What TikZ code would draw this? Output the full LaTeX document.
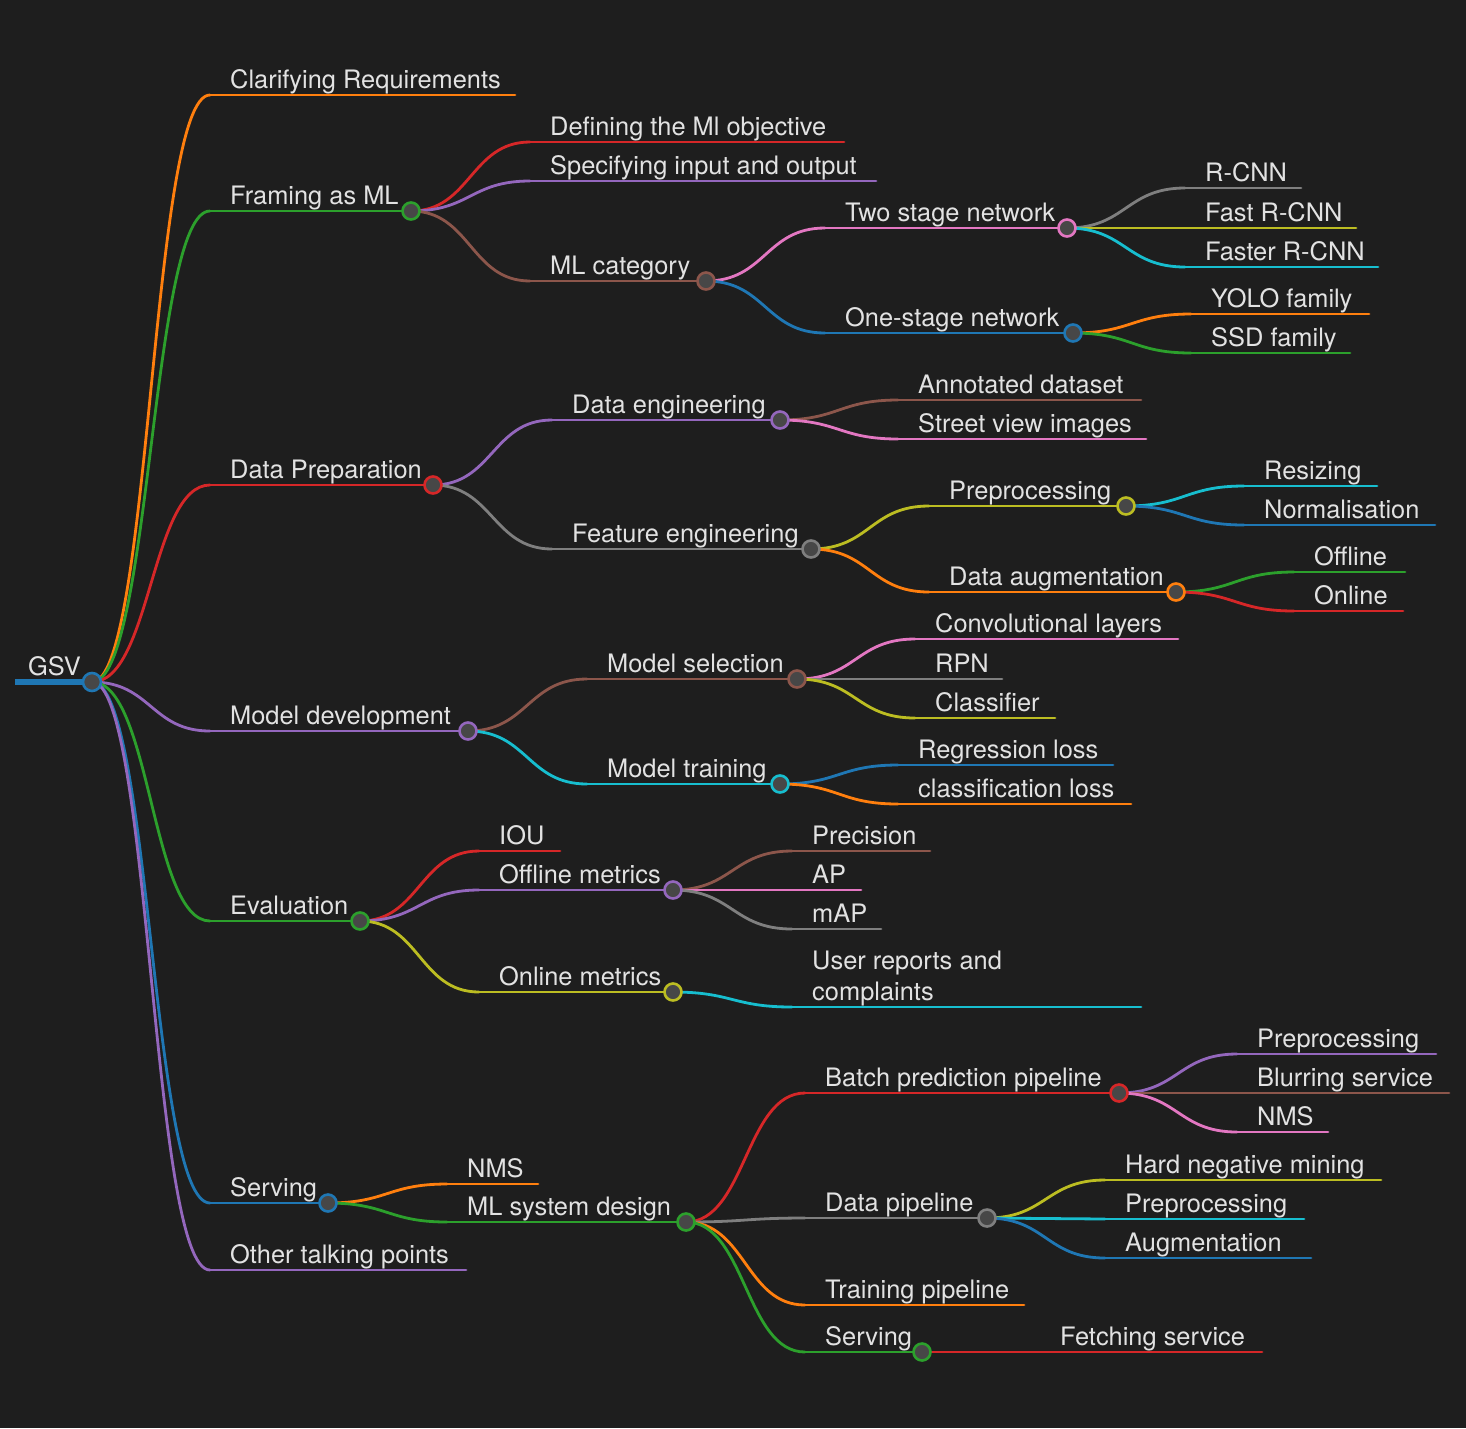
\documentclass[tikz,border=0pt]{standalone}
\usepackage{fontspec}
\setmainfont{TeX Gyre Heros}
\usetikzlibrary{calc}
\pgfdeclarelayer{bg}
\pgfdeclarelayer{back}
\pgfsetlayers{back,bg,main}
\definecolor{cBlue}{HTML}{1F77B4}
\definecolor{cOrange}{HTML}{FF7F0E}
\definecolor{cGreen}{HTML}{2CA02C}
\definecolor{cRed}{HTML}{D62728}
\definecolor{cPurple}{HTML}{9467BD}
\definecolor{cBrown}{HTML}{8C564B}
\definecolor{cPink}{HTML}{E377C2}
\definecolor{cGray}{HTML}{7F7F7F}
\definecolor{cOlive}{HTML}{BCBD22}
\definecolor{cCyan}{HTML}{17BECF}
\definecolor{bgcol}{HTML}{1E1E1E}
\definecolor{txtcol}{HTML}{E2E2E2}
\definecolor{dotfill}{HTML}{474747}
\tikzset{
  lbl/.style={anchor=base west, inner sep=0pt, text=txtcol, font=\fontsize{25.4}{31}\selectfont},
  ln/.style={line width=2.8pt, line cap=round},
  dot/.style={circle, fill=dotfill, line width=2.6pt, minimum size=17pt, inner sep=0pt},
}
% leaf: name, colour, x start, x end, y, text
\newcommand\mmleaf[6]{%
  \coordinate (#1) at (#3,#5);
  \coordinate (#1e) at (#4,#5);
  \node[lbl] (#1t) at (#3+20,#5-7) {#6};
  \begin{pgfonlayer}{bg}\draw[ln,#2] (#1) -- (#1e);\end{pgfonlayer}%
}
% inner node: name, colour, x start, x circle, y, text
\newcommand\mmint[6]{%
  \coordinate (#1) at (#3,#5);
  \node[dot,draw=#2] (#1c) at (#4,#5) {};
  \node[lbl] (#1t) at (#3+20,#5-7) {#6};
  \begin{pgfonlayer}{bg}\draw[ln,#2] (#1) -- (#1c.center);\end{pgfonlayer}%
}
% link: parent, child, colour
\newcommand\mmlink[3]{%
  \begin{pgfonlayer}{bg}
  \draw[ln,#3] let \p1=(#1c.center), \p2=(#2) in
    (\p1) .. controls ({(\x1+\x2)/2},\y1) and ({(\x1+\x2)/2},\y2) .. (\p2);
  \end{pgfonlayer}%
}
\begin{document}
\begin{tikzpicture}[x=1pt,y=-1pt]
\begin{pgfonlayer}{back}
\fill[bgcol] (0,0) rectangle (1466,1428);
\end{pgfonlayer}
\useasboundingbox (0,0) rectangle (1466,1428);
% root
\coordinate (root) at (15,682);
\node[dot,draw=cBlue,minimum size=18pt] (rootc) at (92,682) {};
\node[lbl] (roott) at (28,675) {GSV};
\begin{pgfonlayer}{bg}\draw[line width=6pt,cBlue] (root) -- (rootc.center);\end{pgfonlayer}
% level 1
\mmleaf{clar}{cOrange}{210}{515}{95}{Clarifying Requirements}
\mmint{fram}{cGreen}{210}{411}{211}{Framing as ML}
\mmint{prep}{cRed}{210}{433}{485}{Data Preparation}
\mmint{mdev}{cPurple}{210}{468}{731}{Model development}
\mmint{eval}{cGreen}{210}{360}{921}{Evaluation}
\mmint{serv}{cBlue}{210}{328}{1203}{Serving}
\mmleaf{othr}{cPurple}{210}{466}{1270}{Other talking points}
\mmlink{root}{clar}{cOrange}
\mmlink{root}{fram}{cGreen}
\mmlink{root}{prep}{cRed}
\mmlink{root}{mdev}{cPurple}
\mmlink{root}{eval}{cGreen}
\mmlink{root}{serv}{cBlue}
\mmlink{root}{othr}{cPurple}
% Framing as ML
\mmleaf{defn}{cRed}{530}{844}{142}{Defining the Ml objective}
\mmleaf{spec}{cPurple}{530}{876}{181}{Specifying input and output}
\mmint{mlcat}{cBrown}{530}{706}{281}{ML category}
\mmlink{fram}{defn}{cRed}
\mmlink{fram}{spec}{cPurple}
\mmlink{fram}{mlcat}{cBrown}
\mmint{two}{cPink}{825}{1067}{228}{Two stage network}
\mmint{one}{cBlue}{825}{1073}{333}{One-stage network}
\mmlink{mlcat}{two}{cPink}
\mmlink{mlcat}{one}{cBlue}
\mmleaf{rcnn}{cGray}{1185}{1301}{188}{R-CNN}
\mmleaf{frcnn}{cOlive}{1185}{1356}{228}{Fast R-CNN}
\mmleaf{fsrcnn}{cCyan}{1185}{1378}{267}{Faster R-CNN}
\mmlink{two}{rcnn}{cGray}
\mmlink{two}{frcnn}{cOlive}
\mmlink{two}{fsrcnn}{cCyan}
\mmleaf{yolo}{cOrange}{1191}{1369}{314}{YOLO family}
\mmleaf{ssd}{cGreen}{1191}{1350}{353}{SSD family}
\mmlink{one}{yolo}{cOrange}
\mmlink{one}{ssd}{cGreen}
% Data Preparation
\mmint{deng}{cPurple}{552}{780}{420}{Data engineering}
\mmint{feng}{cGray}{552}{811}{549}{Feature engineering}
\mmlink{prep}{deng}{cPurple}
\mmlink{prep}{feng}{cGray}
\mmleaf{annot}{cBrown}{898}{1141}{400}{Annotated dataset}
\mmleaf{street}{cPink}{898}{1146}{439}{Street view images}
\mmlink{deng}{annot}{cBrown}
\mmlink{deng}{street}{cPink}
\mmint{pproc}{cOlive}{929}{1126}{506}{Preprocessing}
\mmint{aug}{cOrange}{929}{1176}{592}{Data augmentation}
\mmlink{feng}{pproc}{cOlive}
\mmlink{feng}{aug}{cOrange}
\mmleaf{resz}{cCyan}{1244}{1377}{486}{Resizing}
\mmleaf{norm}{cBlue}{1244}{1435}{525}{Normalisation}
\mmlink{pproc}{resz}{cCyan}
\mmlink{pproc}{norm}{cBlue}
\mmleaf{offl}{cGreen}{1294}{1405}{572}{Offline}
\mmleaf{onl}{cRed}{1294}{1403}{611}{Online}
\mmlink{aug}{offl}{cGreen}
\mmlink{aug}{onl}{cRed}
% Model development
\mmint{msel}{cBrown}{587}{797}{679}{Model selection}
\mmint{mtrn}{cCyan}{587}{780}{784}{Model training}
\mmlink{mdev}{msel}{cBrown}
\mmlink{mdev}{mtrn}{cCyan}
\mmleaf{conv}{cPink}{915}{1178}{639}{Convolutional layers}
\mmleaf{rpn}{cGray}{915}{1002}{679}{RPN}
\mmleaf{clsf}{cOlive}{915}{1055}{718}{Classifier}
\mmlink{msel}{conv}{cPink}
\mmlink{msel}{rpn}{cGray}
\mmlink{msel}{clsf}{cOlive}
\mmleaf{regl}{cBlue}{898}{1113}{765}{Regression loss}
\mmleaf{clsl}{cOrange}{898}{1131}{804}{classification loss}
\mmlink{mtrn}{regl}{cBlue}
\mmlink{mtrn}{clsl}{cOrange}
% Evaluation
\mmleaf{iou}{cRed}{479}{560}{851}{IOU}
\mmint{offm}{cPurple}{479}{673}{890}{Offline metrics}
\mmint{onm}{cOlive}{479}{673}{992}{Online metrics}
\mmlink{eval}{iou}{cRed}
\mmlink{eval}{offm}{cPurple}
\mmlink{eval}{onm}{cOlive}
\mmleaf{prec}{cBrown}{792}{930}{851}{Precision}
\mmleaf{ap}{cPink}{792}{861}{890}{AP}
\mmleaf{map}{cGray}{792}{881}{929}{mAP}
\mmlink{offm}{prec}{cBrown}
\mmlink{offm}{ap}{cPink}
\mmlink{offm}{map}{cGray}
\coordinate (user) at (792,1007);
\coordinate (usere) at (1141,1007);
\node[lbl,align=left] (usert) at (812,1000) {User reports and\\complaints};
\begin{pgfonlayer}{bg}\draw[ln,cCyan] (user) -- (usere);\end{pgfonlayer}
\mmlink{onm}{user}{cCyan}
% Serving
\mmleaf{nms}{cOrange}{447}{538}{1184}{NMS}
\mmint{mlsd}{cGreen}{447}{686}{1222}{ML system design}
\mmlink{serv}{nms}{cOrange}
\mmlink{serv}{mlsd}{cGreen}
\mmint{batch}{cRed}{805}{1119}{1093}{Batch prediction pipeline}
\mmint{dpip}{cGray}{805}{987}{1218}{Data pipeline}
\mmleaf{tpip}{cOrange}{805}{1024}{1305}{Training pipeline}
\mmint{srv}{cGreen}{805}{922}{1352}{Serving}
\mmlink{mlsd}{batch}{cRed}
\mmlink{mlsd}{dpip}{cGray}
\mmlink{mlsd}{tpip}{cOrange}
\mmlink{mlsd}{srv}{cGreen}
\mmleaf{bpre}{cPurple}{1237}{1436}{1054}{Preprocessing}
\mmleaf{blur}{cBrown}{1237}{1449}{1093}{Blurring service}
\mmleaf{bnms}{cPink}{1237}{1328}{1132}{NMS}
\mmlink{batch}{bpre}{cPurple}
\mmlink{batch}{blur}{cBrown}
\mmlink{batch}{bnms}{cPink}
\mmleaf{hard}{cOlive}{1105}{1381}{1180}{Hard negative mining}
\mmleaf{dpre}{cCyan}{1105}{1304}{1219}{Preprocessing}
\mmleaf{daug}{cBlue}{1105}{1311}{1258}{Augmentation}
\mmlink{dpip}{hard}{cOlive}
\mmlink{dpip}{dpre}{cCyan}
\mmlink{dpip}{daug}{cBlue}
\mmleaf{fetch}{cRed}{1040}{1262}{1352}{Fetching service}
\mmlink{srv}{fetch}{cRed}
\end{tikzpicture}
\end{document}
